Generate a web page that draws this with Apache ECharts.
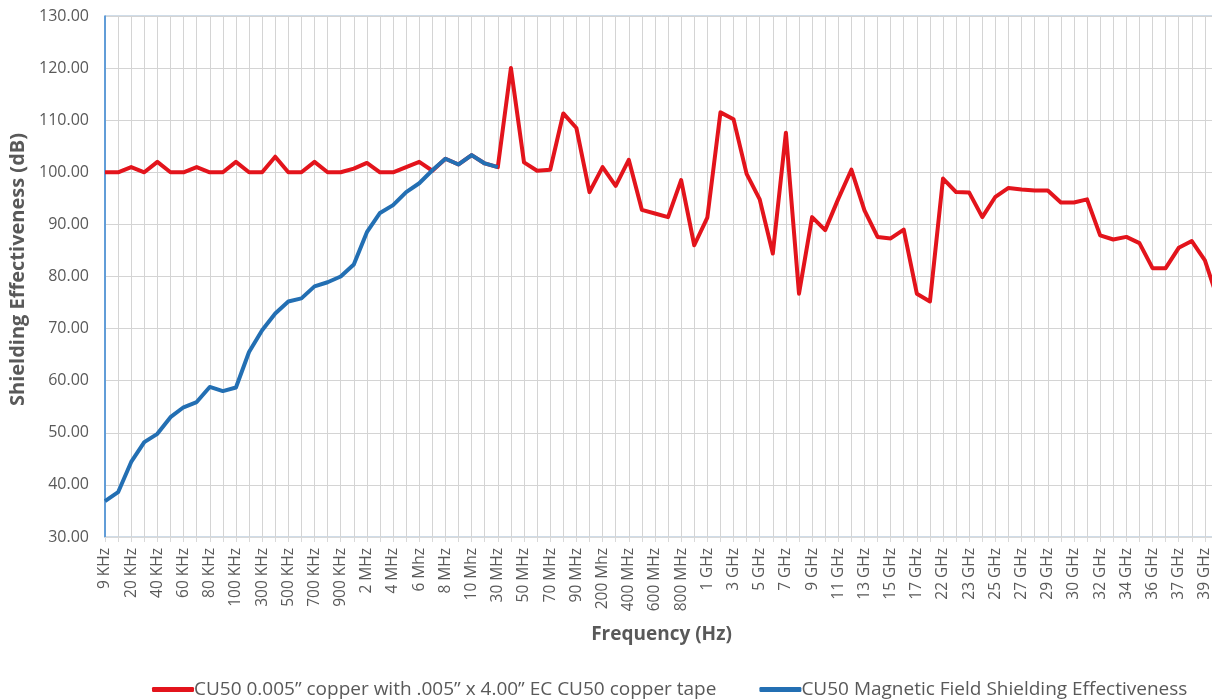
<!DOCTYPE html>
<html>
<head>
<meta charset="utf-8">
<script src="https://cdn.jsdelivr.net/npm/echarts@6/dist/echarts.min.js"></script>
<style>
  html, body { margin: 0; padding: 0; background: #fff; overflow: hidden; }
  #chart { width: 1220px; height: 700px; }
</style>
</head>
<body>
<div id="chart"></div>
<script>
// frequency categories (every other one is labelled on the axis)
const categories = [
  "9 KHz", "10 KHz", "20 KHz", "30 KHz", "40 KHz", "50 KHz", "60 KHz", "70 KHz", "80 KHz", "90 KHz",
  "100 KHz", "200 KHz", "300 KHz", "400 KHz", "500 KHz", "600 KHz", "700 KHz", "800 KHz", "900 KHz", "1 MHz",
  "2 MHz", "3 MHz", "4 MHz", "5 MHz", "6 Mhz", "7 MHz", "8 MHz", "9 MHz", "10 Mhz", "20 MHz",
  "30 MHz", "40 MHz", "50 MHz", "60 MHz", "70 MHz", "80 MHz", "90 MHz", "100 MHz", "200 Mhz", "300 MHz",
  "400 MHz", "500 MHz", "600 MHz", "700 MHz", "800 MHz", "900 MHz", "1 GHz", "2 GHz", "3 GHz", "4 GHz",
  "5 GHz", "6 GHz", "7 GHz", "8 GHz", "9 GHz", "10 GHz", "11 GHz", "12 GHz", "13 GHz", "14 GHz",
  "15 GHz", "16 GHz", "17 GHz", "18 GHz", "22 GHz", "22.5 GHz", "23 GHz", "24 GHz", "25 GHz", "26 GHz",
  "27 GHz", "28 GHz", "29 GHz", "29.5 GHz", "30 GHz", "31 GHz", "32 GHz", "33 GHz", "34 GHz", "35 GHz",
  "36 GHz", "36.5 GHz", "37 GHz", "38 GHz", "39 GHz", "40 GHz"
];

// CU50 0.005" copper with .005" x 4.00" EC CU50 copper tape (dB)
const copperTape = [
  100, 100, 101, 100, 102, 100, 100, 101, 100, 100,
  102, 100, 100, 103, 100, 100, 102, 100, 100, 100.7,
  101.8, 100, 100, 101, 102, 100.3, 102.6, 101.5, 103.3, 101.7,
  101.0, 120, 101.9, 100.3, 100.5, 111.3, 108.5, 96.2, 101.0, 97.4,
  102.4, 92.8, 92.1, 91.4, 98.5, 86.0, 91.3, 111.5, 110.2, 99.7,
  94.8, 84.4, 107.6, 76.7, 91.4, 88.9, 94.9, 100.5, 92.7, 87.6,
  87.3, 89.0, 76.7, 75.2, 98.8, 96.2, 96.1, 91.4, 95.3, 97.0,
  96.7, 96.5, 96.5, 94.2, 94.2, 94.8, 87.9, 87.1, 87.6, 86.4,
  81.6, 81.6, 85.5, 86.8, 83.1, 75.5
];

// CU50 Magnetic Field Shielding Effectiveness (dB), 9 KHz .. 30 MHz
const magneticField = [
  36.9, 38.6, 44.4, 48.2, 49.8, 53.0, 54.9, 55.9, 58.8, 58.0,
  58.7, 65.5, 69.7, 72.9, 75.2, 75.8, 78.1, 78.9, 80.0, 82.3,
  88.5, 92.2, 93.7, 96.2, 97.9, 100.4, 102.6, 101.5, 103.3, 101.7,
  101.0
];

const seriesNames = [
  "CU50 0.005\u201d copper with .005\u201d x 4.00\u201d EC CU50 copper tape",
  "CU50 Magnetic Field Shielding Effectiveness"
];

const font = "'Open Sans', sans-serif";
const textColor = "#595959";

var myChart = echarts.init(document.getElementById("chart"));
let option = {
  backgroundColor: "#fff",
  animation: false,
  textStyle: { fontFamily: font },
  grid: {
    left: 105,
    top: 16,
    bottom: 163,
    right: 2,
    show: true,
    borderColor: "#9fb8d0",
    borderWidth: 1,
  },
  legend: {
    data: seriesNames,
    top: 675,
    left: 147,
    icon: "roundRect",
    itemWidth: 42,
    itemHeight: 5,
    itemGap: 43,
    textStyle: { fontSize: 19, color: textColor, fontFamily: font, padding: [0, 0, 0, -5] },
  },
  xAxis: {
    type: "category",
    boundaryGap: false,
    data: categories,
    name: "Frequency (Hz)",
    nameLocation: "middle",
    nameGap: 88,
    nameTextStyle: { fontSize: 19, fontWeight: "bold", color: textColor },
    axisLine: { lineStyle: { color: "#d9d9d9" } },
    axisTick: { show: true, interval: 0, length: 5, lineStyle: { color: "#d9d9d9" } },
    axisLabel: { interval: 1, rotate: 90, fontSize: 15.5, color: textColor, margin: 11 },
    splitLine: { show: true, interval: 0, lineStyle: { color: "#d4d4d4", width: 1 } },
  },
  yAxis: {
    type: "value",
    min: 30,
    max: 130,
    interval: 10,
    name: "Shielding Effectiveness (dB)",
    nameLocation: "middle",
    nameGap: 75,
    nameTextStyle: { fontSize: 20, fontWeight: "bold", color: textColor, padding: [0, 0, 0, 14] },
    axisLine: { show: true, lineStyle: { color: "#3c8ad6", width: 1.5 } },
    axisTick: { show: false },
    axisLabel: {
      fontSize: 16,
      color: textColor,
      margin: 16,
      formatter: (v) => v.toFixed(2),
    },
    splitLine: { lineStyle: { color: "#d4d4d4", width: 1 } },
  },
  series: [
    {
      name: seriesNames[0],
      type: "line",
      data: copperTape,
      symbol: "none",
      lineStyle: { color: "#e3141c", width: 4, join: "round" },
      itemStyle: { color: "#e3141c" },
    },
    {
      name: seriesNames[1],
      type: "line",
      data: magneticField,
      symbol: "none",
      lineStyle: { color: "#236fb3", width: 4, join: "round" },
      itemStyle: { color: "#236fb3" },
    },
  ],
};
myChart.setOption(option);
</script>
</body>
</html>
